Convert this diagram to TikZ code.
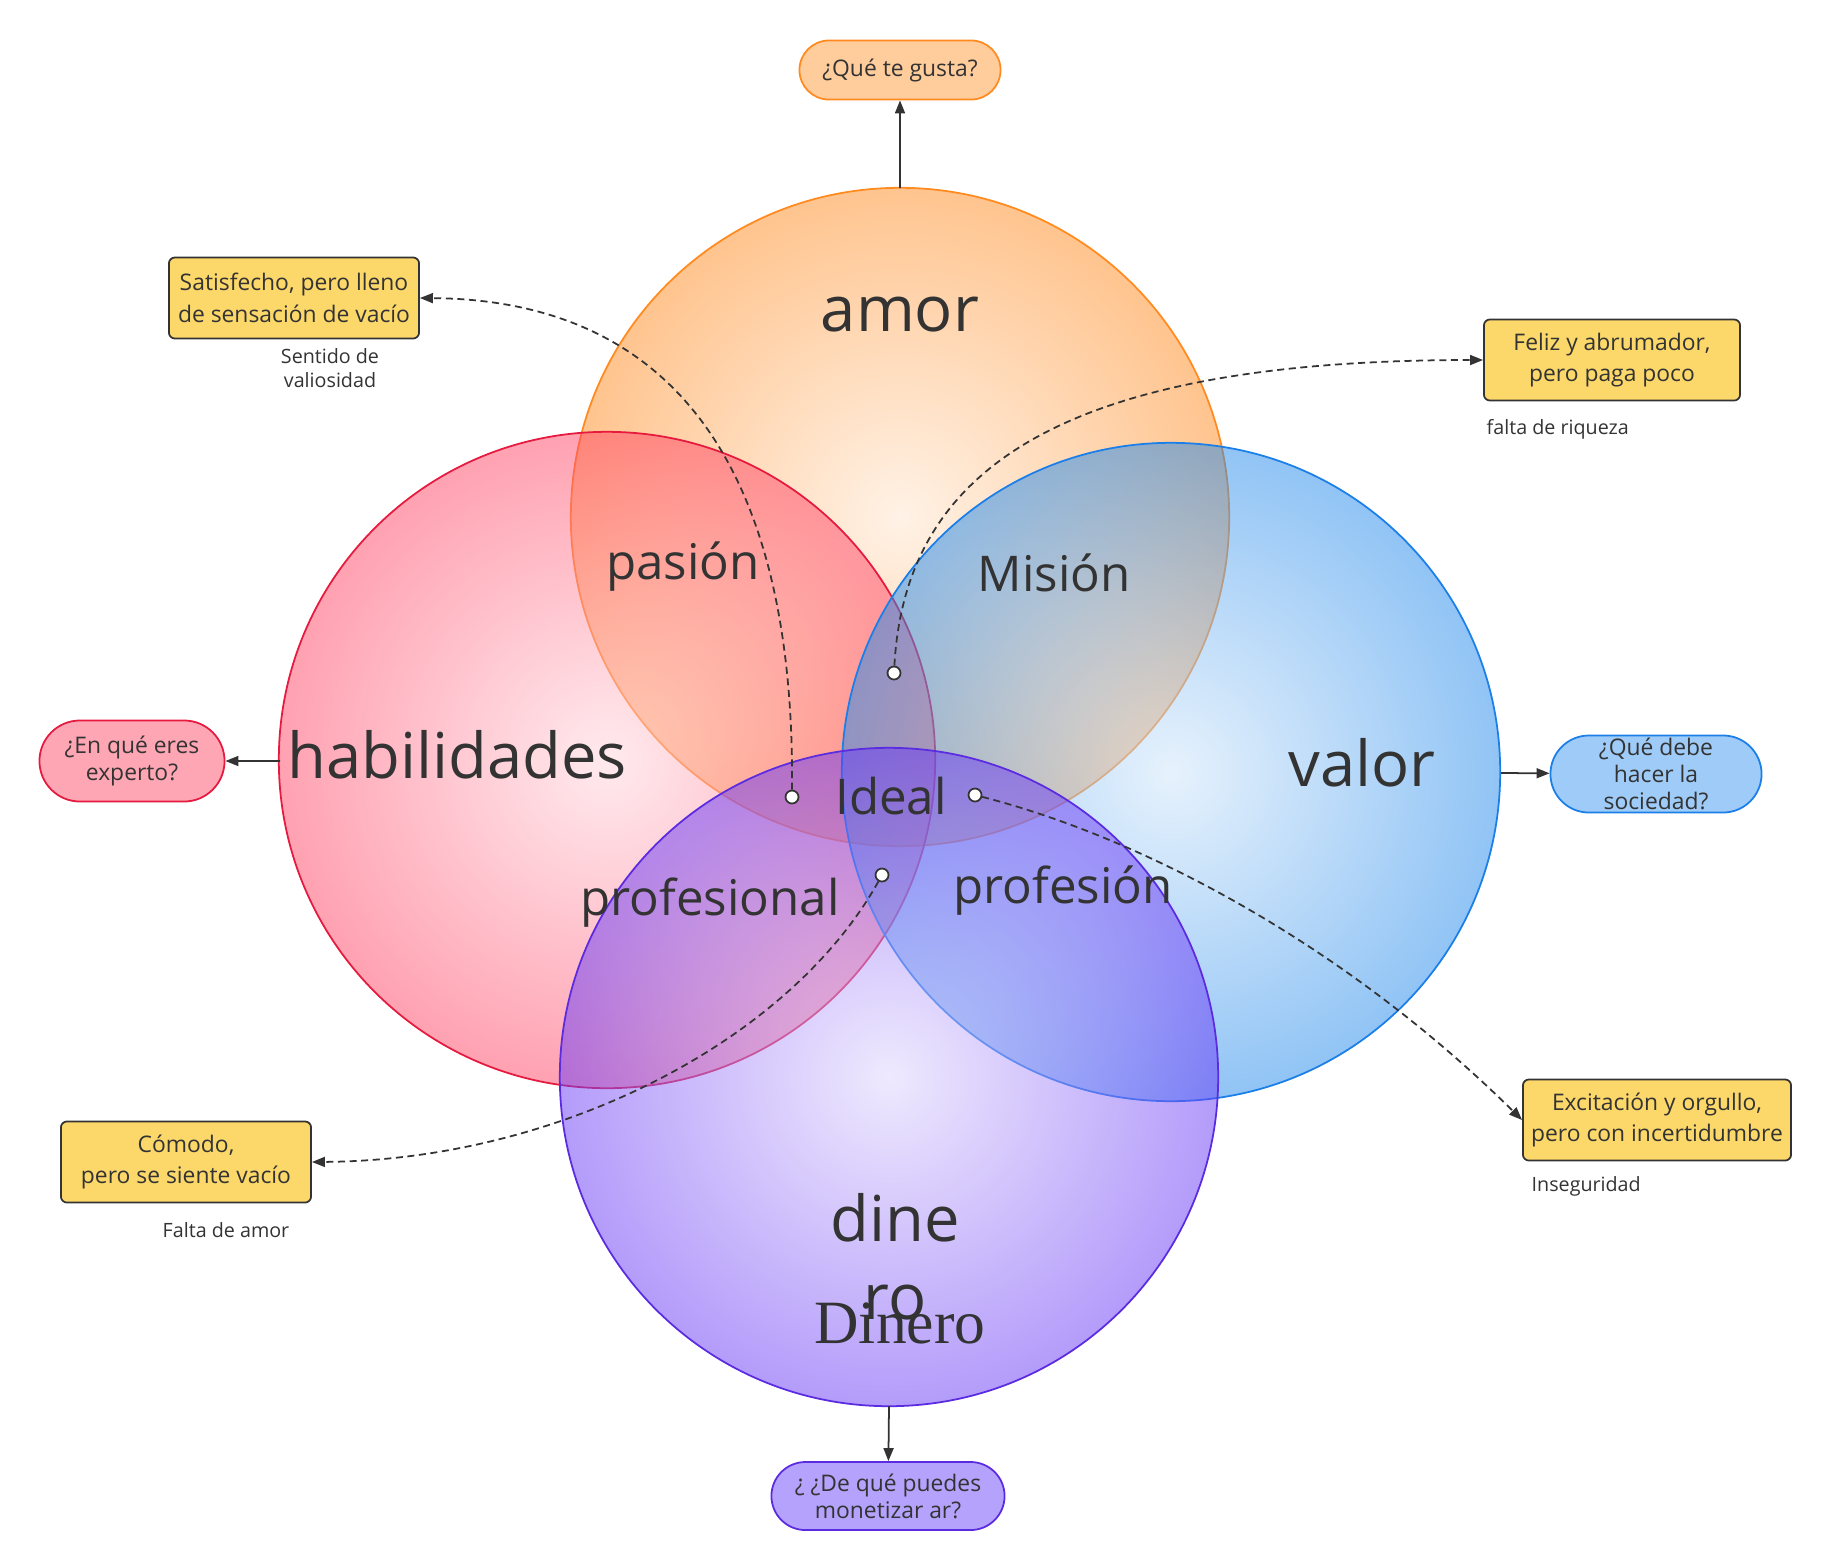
\documentclass[tikz,border=0pt]{standalone}
\usepackage{fontspec}
\setmainfont{Open Sans}
\newfontfamily\dineroserif{Liberation Serif}
\usepackage{tikz}
\usetikzlibrary{positioning, arrows.meta, shapes.misc}
\definecolor{amorline}{HTML}{FF8A1F}
\definecolor{amorpill}{HTML}{FFCC9C}
\definecolor{habline}{HTML}{E6193F}
\definecolor{habfill}{HTML}{FF4465}
\definecolor{habpill}{HTML}{FFA6B4}
\definecolor{valline}{HTML}{1A7FE8}
\definecolor{valfill}{HTML}{2389EB}
\definecolor{valpill}{HTML}{9ECBF7}
\definecolor{dinline}{HTML}{5B2BE0}
\definecolor{dinfill}{HTML}{6939F6}
\definecolor{dinpill}{HTML}{B5A2FC}
\definecolor{notefill}{HTML}{FCD86A}
\definecolor{txtgray}{HTML}{333333}

\begin{document}
\begin{tikzpicture}[
  x=0.01cm, y=-0.01cm,
  zone/.style={line width=0.5pt, fill opacity=0.5},
  biglbl/.style={font=\fontsize{18pt}{22.2pt}\selectfont, text=txtgray, inner sep=0pt},
  midlbl/.style={font=\fontsize{14pt}{16pt}\selectfont, text=txtgray, inner sep=0pt},
  ask/.style={
    rounded rectangle, line width=0.5pt, inner xsep=0pt, inner ysep=0pt,
    font=\fontsize{6.5pt}{7.7pt}\selectfont, text=txtgray, align=center
  },
  feel/.style={
    rectangle, rounded corners=0.06cm, draw=txtgray, fill=notefill,
    line width=0.5pt, minimum height=0.81cm, inner sep=0pt,
    font=\fontsize{6.5pt}{9pt}\selectfont, text=txtgray, align=center
  },
  note/.style={font=\fontsize{5.6pt}{7pt}\selectfont, text=txtgray, inner sep=0pt, align=center},
  arr/.style={-{Triangle[length=0.13cm, width=0.1cm]}, line width=0.5pt, color=txtgray},
  darr/.style={arr, dash pattern=on 2pt off 1.3pt},
  dot/.style={circle, draw=txtgray, fill=white, line width=0.5pt, minimum size=0.13cm, inner sep=0pt},
]
\useasboundingbox (0,0) rectangle (1827,1566);

% Circles
\shade[zone, draw=amorline, inner color=amorline!22, outer color=amorline]
  (900,517) circle[radius=3.29cm];
\shade[zone, draw=habline, inner color=habfill!22, outer color=habfill]
  (607,760) circle[radius=3.28cm];
\shade[zone, draw=valline, inner color=valfill!22, outer color=valfill]
  (1171,772) circle[radius=3.29cm];
\shade[zone, draw=dinline, inner color=dinfill!22, outer color=dinfill]
  (889,1077) circle[radius=3.29cm];

\coordinate (amortop) at (900,188);
\coordinate (hableft) at (280,761);
\coordinate (valright) at (1501,773);
\coordinate (dinbottom) at (889,1406);

% Circle labels
\node[biglbl] (amor) at (900,315) {amor};
\node[biglbl] (habilidades) at (457,755) {habilidades};
\node[biglbl] (valor) at (1362,763) {valor};
\node[biglbl, align=center] (dinero) at (895,1257) {dine\\ro};
\node[font=\dineroserif\fontsize{17.5pt}{19pt}\selectfont, text=txtgray, inner sep=0pt]
  (dineroserif) at (900,1323) {Dinero};

% Overlap labels
\node[midlbl] (pasion) at (683,567) {pasión};
\node[midlbl] (mision) at (1054,573) {Misión};
\node[midlbl] (ideal) at (891,796) {Ideal};
\node[midlbl] (profesional) at (710,903) {profesional};
\node[midlbl] (profesion) at (1063,891) {profesión};

% Questions
\node[ask, draw=amorline, fill=amorpill, minimum width=2.01cm, minimum height=0.59cm]
  (qamor) at (900,70) {¿Qué te gusta?};
\node[ask, draw=habline, fill=habpill, minimum width=1.85cm, minimum height=0.81cm]
  (qhab) at (132,761) {¿En qué eres\\experto?};
\node[ask, draw=valline, fill=valpill, minimum width=2.11cm, minimum height=0.77cm]
  (qval) at (1656,774) {¿Qué debe\\hacer la\\sociedad?};
\node[ask, draw=dinline, fill=dinpill, minimum width=2.33cm, minimum height=0.68cm]
  (qdin) at (888,1496) {¿ ¿De qué puedes\\monetizar ar?};

% Feelings
\node[feel, minimum width=2.50cm] (satisfecho) at (294,298)
  {Satisfecho, pero lleno\\de sensación de vacío};
\node[feel, minimum width=2.56cm] (feliz) at (1612,360)
  {Feliz y abrumador,\\pero paga poco};
\node[feel, minimum width=2.50cm] (comodo) at (186,1162)
  {Cómodo,\\pero se siente vacío};
\node[feel, minimum width=2.68cm] (excitacion) at (1657,1120)
  {Excitación y orgullo,\\pero con incertidumbre};

\node[note] (valiosidad) at (330,368) {Sentido de\\valiosidad};
\node[note, anchor=west] (riqueza) at (1486,429) {falta de riqueza};
\node[note] (faltaamor) at (226,1230) {Falta de amor};
\node[note, anchor=west] (inseguridad) at (1531,1186) {Inseguridad};

% Dots
\node[dot] (dpasion) at (792,797) {};
\node[dot] (dmision) at (894,673) {};
\node[dot] (dprofesion) at (975,795) {};
\node[dot] (dprofesional) at (882,875) {};

% Arrows
\draw[arr] (amortop) -- (qamor);
\draw[arr] (hableft) -- (qhab);
\draw[arr] (valright) -- (qval);
\draw[arr] (dinbottom) -- (qdin);

\draw[darr] (dpasion) .. controls (795,450) and (660,300) .. (satisfecho.east);
\draw[darr] (dmision) .. controls (905,470) and (1060,360) .. (feliz.west);
\draw[darr] (dprofesion) .. controls (1150,840) and (1350,950) .. (excitacion.west);
\draw[darr] (dprofesional) .. controls (790,1040) and (560,1160) .. (comodo.east);
\end{tikzpicture}
\end{document}
